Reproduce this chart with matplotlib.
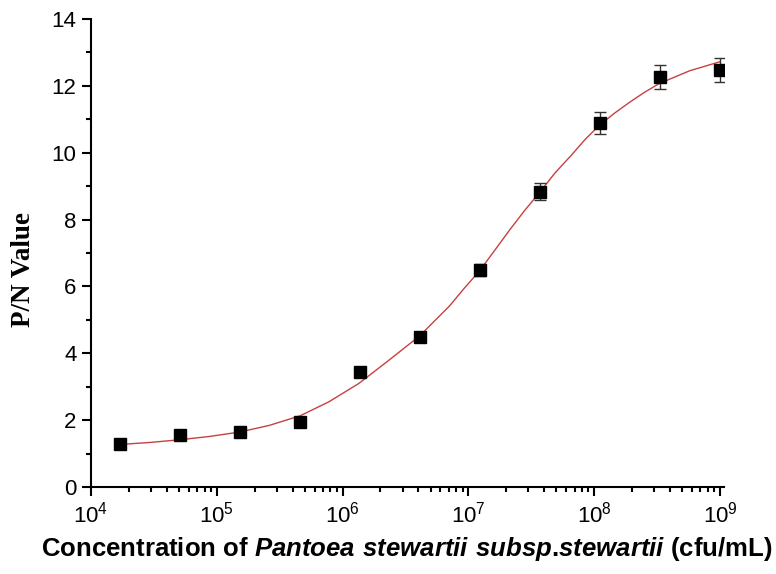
import numpy as np
import matplotlib
matplotlib.use("Agg")
import matplotlib.pyplot as plt
from matplotlib.ticker import MultipleLocator, LogLocator, NullFormatter

plt.rcParams['font.family'] = ['Liberation Sans', 'DejaVu Sans']
plt.rcParams['mathtext.fontset'] = 'custom'
plt.rcParams['mathtext.rm'] = 'Liberation Sans'
plt.rcParams['mathtext.bf'] = 'Liberation Sans:bold'
plt.rcParams['mathtext.bfit'] = 'Liberation Sans:bold:italic'

# measured points (3-fold dilution series)
conc = [1.69e4, 5.08e4, 1.52e5, 4.57e5, 1.37e6, 4.12e6, 1.23e7, 3.7e7, 1.11e8, 3.33e8, 1.0e9]
pn_value = [1.29, 1.55, 1.63, 1.95, 3.44, 4.50, 6.49, 8.83, 10.89, 12.25, 12.47]
pn_err = [0.05, 0.05, 0.05, 0.05, 0.05, 0.08, 0.19, 0.26, 0.33, 0.36, 0.36]

# fitted curve
fit_conc = [1.67e4, 2.9e4, 5.0e4, 8.7e4, 1.5e5, 2.6e5, 4.6e5, 7.8e5, 1.35e6, 2.35e6,
            4.1e6, 7.1e6, 9.3e6, 1.23e7, 1.62e7, 2.14e7, 2.8e7, 3.7e7, 4.9e7, 6.5e7,
            8.5e7, 1.1e8, 1.45e8, 1.9e8, 2.5e8, 3.3e8, 5.75e8, 1.0e9]
fit_value = [1.27, 1.33, 1.41, 1.51, 1.64, 1.84, 2.13, 2.55, 3.10, 3.80,
             4.52, 5.42, 5.95, 6.47, 7.08, 7.70, 8.27, 8.82, 9.40, 9.90,
             10.40, 10.82, 11.18, 11.50, 11.80, 12.07, 12.45, 12.72]

fig = plt.figure(figsize=(7.76, 5.74), dpi=100)
ax = fig.add_axes([0.1173, 0.1516, 0.8157, 0.8154])

ax.plot(fit_conc, fit_value, color='#c84040', lw=1.0, zorder=2)
ax.errorbar(conc, pn_value, yerr=pn_err, fmt='s', color='black', ms=8.5,
            ecolor='#333333', elinewidth=1.0, capsize=4.5, capthick=1.0, zorder=3)

ax.set_xscale('log')
ax.set_xlim(1e4, 1.077e9)
ax.set_ylim(0, 14)
ax.yaxis.set_major_locator(MultipleLocator(2))
ax.yaxis.set_minor_locator(MultipleLocator(1))
ax.xaxis.set_major_locator(LogLocator(base=10, numticks=20))
ax.xaxis.set_minor_locator(LogLocator(base=10, subs=np.arange(2, 10), numticks=20))
ax.xaxis.set_minor_formatter(NullFormatter())

for side in ['top', 'right']:
    ax.spines[side].set_visible(False)
for side in ['left', 'bottom']:
    ax.spines[side].set_linewidth(1.5)

ax.tick_params(which='major', direction='out', length=6.5, width=1.5, labelsize=16, pad=4)
ax.tick_params(which='minor', direction='out', length=3.5, width=1.5)

ax.set_ylabel('P/N Value', family=['Liberation Serif'], fontweight='bold', fontsize=19.5, va='center')
ax.yaxis.set_label_coords(-0.106, 0.4637)
ax.set_xlabel(r'Concentration of $\mathbfit{Pantoea\ stewartii\ subsp}$.$\mathbfit{stewartii}$ (cfu/mL)',
              fontweight='bold', fontsize=18.5, va='center')
ax.xaxis.set_label_coords(0.498, -0.132)

fig.savefig('out.png', dpi=100)
